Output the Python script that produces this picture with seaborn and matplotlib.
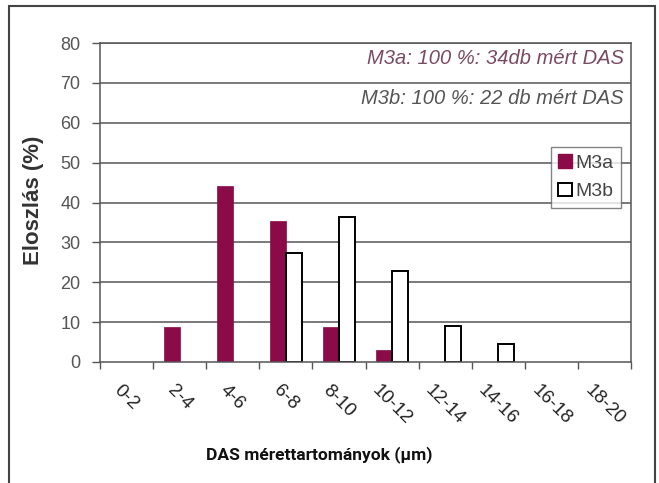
import matplotlib
matplotlib.use("Agg")
import matplotlib.pyplot as plt
import matplotlib.patches as mpatches
import seaborn as sns
import pandas as pd
import numpy as np

categories = ["0-2", "2-4", "4-6", "6-8", "8-10", "10-12", "12-14", "14-16", "16-18", "18-20"]
m3a = [0, 8.8, 44.1, 35.3, 8.8, 2.9, 0, 0, 0, 0]
m3b = [0, 0, 0, 27.3, 36.4, 22.7, 9.1, 4.5, 0, 0]
series = ["M3a", "M3b"]
yticks = [0, 10, 20, 30, 40, 50, 60, 70, 80]
note_a = "M3a: 100 %: 34db mért DAS"
note_b = "M3b: 100 %: 22 db mért DAS"

df = pd.DataFrame({
    "cat": categories * 2,
    "val": m3a + m3b,
    "series": [series[0]] * len(categories) + [series[1]] * len(categories),
})

sns.set_theme(style="white")
plt.rcParams['font.family'] = ['Liberation Sans', 'DejaVu Sans']

BAR = "#8a0b47"
GRID = "#555555"

fig = plt.figure(figsize=(6.59, 4.83), dpi=100)
fig.patch.set_facecolor("white")
ax = fig.add_axes([100/659, 1 - 362/483, 531/659, 319/483])

sns.barplot(data=df, x="cat", y="val", hue="series", order=categories,
            hue_order=series, palette=[BAR, "white"], width=0.6,
            dodge=True, ax=ax, legend=False, saturation=1)

n = len(categories)
for i, p in enumerate(ax.patches[:2 * n]):
    if p.get_height() == 0:
        p.set_visible(False)
        continue
    if i < n:
        p.set_edgecolor(BAR)
        p.set_linewidth(0.5)
    else:
        p.set_edgecolor("black")
        p.set_linewidth(1.4)

ax.set_ylim(0, 80)
ax.set_xlim(-0.5, n - 0.5)
ax.set_yticks(yticks)
ax.set_yticklabels([str(v) for v in yticks], fontsize=13, color="#555555")
for y in yticks[1:]:
    ax.axhline(y, color=GRID, lw=1.1, zorder=0)

ax.set_xticks(np.arange(-0.5, n, 1.0))
ax.set_xticklabels([])
ax.set_xticks(np.arange(n), minor=True)
ax.set_xticklabels(categories, minor=True, rotation=-45, ha="center", va="top",
                   fontsize=13.5, color="#222222")
ax.tick_params(axis="x", which="major", direction="out", length=5, width=1, color=GRID, bottom=True)
ax.tick_params(axis="x", which="minor", length=0, pad=14)
ax.tick_params(axis="y", direction="out", length=6, width=1, color=GRID, left=True, pad=8)

for s in ["left", "bottom", "top", "right"]:
    ax.spines[s].set_visible(True)
    ax.spines[s].set_color(GRID)
    ax.spines[s].set_linewidth(1.1)

ax.set_xlabel("")
ax.set_ylabel("")
fig.text(34/659, 1 - 200/483, "Eloszlás (%)", rotation=90, ha="center", va="center",
         fontsize=16, fontweight="bold", color="#333333")

ax.text(0.986, 0.952, note_a, transform=ax.transAxes, ha="right", va="center",
        fontsize=14.5, style="italic", color="#7a4a62")
ax.text(0.986, 0.826, note_b, transform=ax.transAxes, ha="right", va="center",
        fontsize=14.5, style="italic", color="#555555")

handles = [mpatches.Patch(facecolor=BAR, edgecolor=BAR, label=series[0]),
           mpatches.Patch(facecolor="white", edgecolor="black", lw=1.4, label=series[1])]
leg = ax.legend(handles=handles, loc="upper right", bbox_to_anchor=(0.981, 0.674),
                fontsize=14, frameon=True, fancybox=False, handlelength=0.7,
                handleheight=0.7, handletextpad=0.2, borderpad=0.38, labelspacing=0.55,
                borderaxespad=0)
leg.get_frame().set_edgecolor("#666666")
leg.get_frame().set_linewidth(1)
for t in leg.get_texts():
    t.set_color("#444444")

fig.text(319/659, 1 - 455/483, "DAS mérettartományok (μm)", fontsize=12.5,
         family=["Roboto", "DejaVu Sans"], ha="center", va="center",
         fontweight="bold", color="#111111")

fig.add_artist(mpatches.Rectangle((9/659, -0.05), (655 - 9)/659, (1 + 0.05) - 6/483,
                                  transform=fig.transFigure, fill=False,
                                  edgecolor="#444444", lw=1.5))

fig.savefig("out.png", dpi=100)
